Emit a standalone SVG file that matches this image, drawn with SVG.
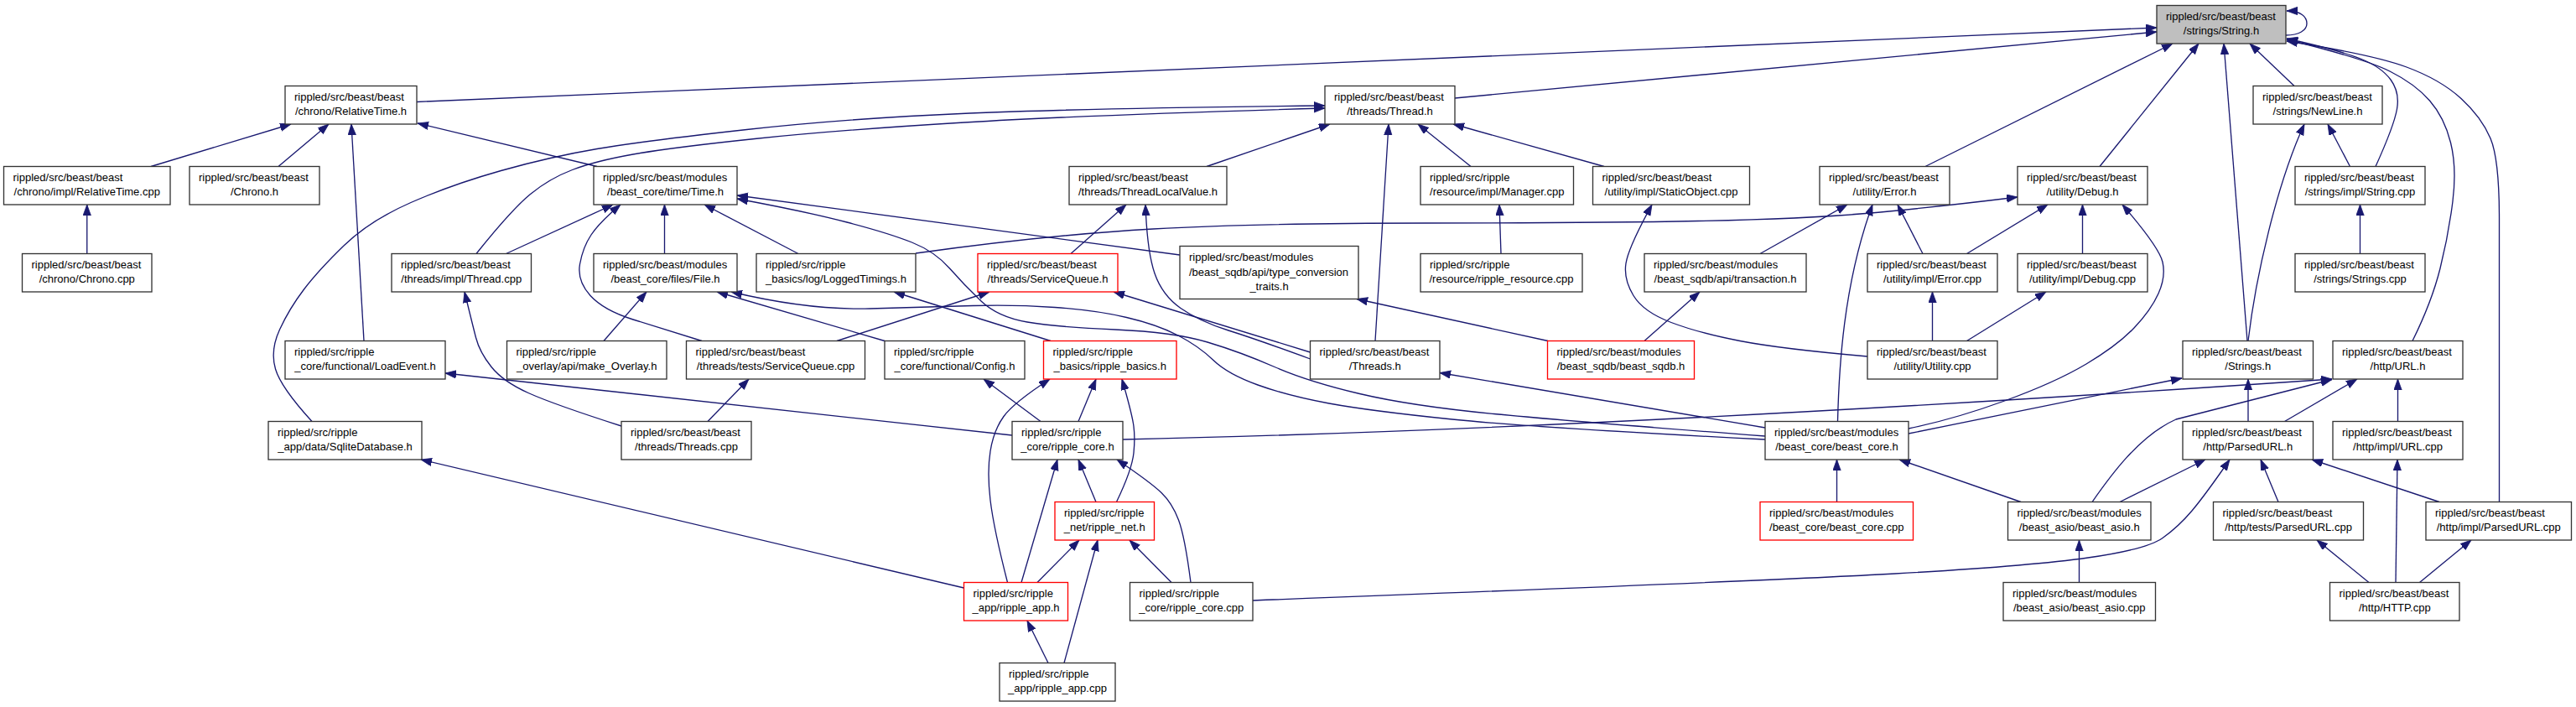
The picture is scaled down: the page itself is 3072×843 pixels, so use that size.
<svg xmlns="http://www.w3.org/2000/svg" width="3072" height="843" viewBox="0 0 3072 843">
<style>
.node rect{fill:#ffffff;stroke:#333333;stroke-width:1.33}
.node.root rect{fill:#bfbfbf}
.node.trunc rect{stroke:#ff0000}
text{font-family:"Liberation Sans",Arial,Helvetica,sans-serif;font-size:13px;fill:#000000}
.l{text-anchor:start}
.c{text-anchor:middle}
#edges path{fill:none;stroke:#191970;stroke-width:1.33;marker-end:url(#ah)}
</style>
<defs>
<marker id="ah" markerUnits="userSpaceOnUse" markerWidth="14" markerHeight="10" viewBox="0 0 14 10" refX="13" refY="4.7" orient="auto"><path d="M0,0 L13,4.7 L0,9.4 Z" fill="#191970" stroke="#191970" stroke-width="0.8"/></marker>
</defs>
<rect x="0" y="0" width="3072" height="843" fill="#ffffff"/>
<g id="edges">
<path d="M497,121.5 L2572,33"/>
<path d="M1735,117 L2572,38"/>
<path d="M180,198.5 L347,148"/>
<path d="M332,198.5 L392,148"/>
<path d="M103.75,302.5 L103.75,244"/>
<path d="M434,406.5 L419,148"/>
<path d="M712,198.5 L498,147"/>
<path d="M372,502.5 Q335,462 328.5,440 T333.5,393 T362.5,345 T410.5,292.5 T490,241.5 T597.5,203.5 T712,177.5 T890.5,154.5 T1156.5,135 T1580,126"/>
<path d="M568,302.5 Q610,250 632.5,231.5 T682.5,202.5 T755,184 T900,165.5 T1150,146 T1580,129"/>
<path d="M1439,198.5 L1586,148"/>
<path d="M1754,198.5 L1691,148"/>
<path d="M1913,198.5 L1733,148"/>
<path d="M1640,406.5 L1656,148"/>
<path d="M1790,302.5 L1788,244"/>
<path d="M2227,425 Q2124,416 2075,406.5 T1993,384.5 T1948,352.5 T1939,314 T1970,244"/>
<path d="M1846,406.5 L1618,356.5"/>
<path d="M1961,406.5 L2027,348"/>
<path d="M1407,304 L879,233"/>
<path d="M2105,520 Q1880,503 1781.5,493.5 T1621.5,469.5 T1520,437.5 T1440,408 T1330,393 T1225,384 T1170,359 T1132.5,320 T1087.5,289 T1010,265 T879,237"/>
<path d="M2105,524 Q1830,510 1732,500 T1585,481 T1500,459 T1447,429.5 T1405,400 T1343.5,378.5 T1258,366.5 T1160,364.5 T1037.5,368 T872,348"/>
<path d="M792.5,302.5 L792.5,244"/>
<path d="M603.5,302.5 L731,244"/>
<path d="M837,406.5 Q790,392 755,381 T704,352.5 T691.5,315 T705,280 T740,244"/>
<path d="M952,302.5 L840,244"/>
<path d="M720,406.5 L771,348"/>
<path d="M1055,406.5 L855,348"/>
<path d="M1253,406.5 L1066,348"/>
<path d="M998,406.5 L1180,348"/>
<path d="M1277,302.5 L1343,244"/>
<path d="M1562.5,428 Q1500,405 1465,394 T1408,367.5 T1377,326 T1366,244"/>
<path d="M1562.5,420 L1328,348"/>
<path d="M2105,510 L1717,444.5"/>
<path d="M1207,519 L531,445"/>
<path d="M1149.5,701 L502,548"/>
<path d="M741,508 Q660,482 630,468.5 T586,437.5 T567.5,402.5 T554,348"/>
<path d="M844,502.5 L893,452"/>
<path d="M1241,502.5 L1173,452"/>
<path d="M1286,502.5 L1307,452"/>
<path d="M1201.5,694.5 Q1185,630 1181,596.5 T1181,538 T1197,496.5 T1252,452"/>
<path d="M1331.5,598.5 Q1350,560 1352,540 T1351.5,505 T1338,452"/>
<path d="M1218,694.5 L1261,548"/>
<path d="M1307,598.5 L1286,548"/>
<path d="M1420,694.5 Q1413,640 1405.5,620 T1385,587.5 T1332,548"/>
<path d="M1237,694.5 L1287,644"/>
<path d="M1269,790.5 L1309,644"/>
<path d="M1397,694.5 L1347,644"/>
<path d="M1250,790.5 L1225,740"/>
<path d="M1339,524 Q1900,512 2781,452"/>
<path d="M1494,716 Q2100,693 2260,684 T2490,665 T2579,641.5 T2614,609 T2659,548"/>
<path d="M2276,517 L2602,451"/>
<path d="M2276,511 Q2330,500 2390.5,478 T2488,434 T2545,391 T2574,350 T2579,312.5 T2531,244"/>
<path d="M2410,598.5 L2265,548"/>
<path d="M2190.5,598.5 L2190.5,548"/>
<path d="M2191.5,502.5 C2193,440 2198,340 2233,244"/>
<path d="M2099,302.5 L2203,244"/>
<path d="M2293,302.5 L2263,244"/>
<path d="M2296,198.5 L2591,52"/>
<path d="M2504,198.5 L2622,52"/>
<path d="M2680,406.5 L2652,52"/>
<path d="M2736,102.5 L2683,52"/>
<path d="M2833,198.5 Q2855,150 2858.5,130 T2851,95 T2815,70 T2727,46"/>
<path d="M2877,406.5 Q2900,360 2910,320 T2925,240 T2922.5,170 T2897.5,120 T2850,85 T2727,47"/>
<path d="M2980.5,598.5 L2980.5,260 Q2980.5,190 2970,165 T2935,117.5 T2870,80 T2727,49"/>
<path d="M2681,406.5 C2690,330 2715,220 2748,148"/>
<path d="M2802.5,198.5 L2776,148"/>
<path d="M2814.5,302.5 L2814.5,244"/>
<path d="M2345.5,302.5 L2442,244"/>
<path d="M2483.5,302.5 L2483.5,244"/>
<path d="M1092,302 Q1250,280 1375,273 T1700,266 T2025,263.5 T2225,254.5 T2406,235"/>
<path d="M2345.5,406.5 L2440,348"/>
<path d="M2304.5,406.5 L2304.5,348"/>
<path d="M2681,502.5 L2681,452"/>
<path d="M2724.5,502.5 L2811,452"/>
<path d="M2859.5,502.5 L2859.5,452"/>
<path d="M2495,598.5 C2515,570 2550,520 2595,500 L2781,452.5"/>
<path d="M2528,598.5 L2630,548"/>
<path d="M2717,598.5 L2696,548"/>
<path d="M2909,598.5 L2757,548"/>
<path d="M2479.5,694.5 L2479.5,644"/>
<path d="M2857,694.5 L2859,548"/>
<path d="M2825,694.5 L2763,644"/>
<path d="M2885.5,694.5 L2947,644"/>
<path d="M2726,42 C2742,42 2751,36 2751,28 C2751,20 2744,13 2727,13"/>
</g>
<g id="n_string" class="node root"><rect x="2572" y="6.5" width="154" height="45.5"/><text class="l" x="2583" y="24">rippled/src/beast/beast</text><text class="c" x="2649" y="41">/strings/String.h</text></g>
<g id="n_reltime" class="node"><rect x="340" y="102.5" width="157" height="45.5"/><text class="l" x="351" y="120">rippled/src/beast/beast</text><text class="c" x="418.5" y="137">/chrono/RelativeTime.h</text></g>
<g id="n_thread" class="node"><rect x="1580" y="102.5" width="155" height="45.5"/><text class="l" x="1591" y="120">rippled/src/beast/beast</text><text class="c" x="1657.5" y="137">/threads/Thread.h</text></g>
<g id="n_newline" class="node"><rect x="2687" y="102.5" width="154" height="45.5"/><text class="l" x="2698" y="120">rippled/src/beast/beast</text><text class="c" x="2764" y="137">/strings/NewLine.h</text></g>
<g id="n_reltimecpp" class="node"><rect x="4.5" y="198.5" width="198.5" height="45.5"/><text class="l" x="15.5" y="216">rippled/src/beast/beast</text><text class="c" x="103.75" y="233">/chrono/impl/RelativeTime.cpp</text></g>
<g id="n_chronoh" class="node"><rect x="226" y="198.5" width="155" height="45.5"/><text class="l" x="237" y="216">rippled/src/beast/beast</text><text class="c" x="303.5" y="233">/Chrono.h</text></g>
<g id="n_time" class="node"><rect x="708" y="198.5" width="171" height="45.5"/><text class="l" x="719" y="216">rippled/src/beast/modules</text><text class="c" x="793.5" y="233">/beast_core/time/Time.h</text></g>
<g id="n_tlv" class="node"><rect x="1275" y="198.5" width="188" height="45.5"/><text class="l" x="1286" y="216">rippled/src/beast/beast</text><text class="c" x="1369" y="233">/threads/ThreadLocalValue.h</text></g>
<g id="n_manager" class="node"><rect x="1694" y="198.5" width="182.5" height="45.5"/><text class="l" x="1705" y="216">rippled/src/ripple</text><text class="c" x="1785.25" y="233">/resource/impl/Manager.cpp</text></g>
<g id="n_staticobj" class="node"><rect x="1899.5" y="198.5" width="187" height="45.5"/><text class="l" x="1910.5" y="216">rippled/src/beast/beast</text><text class="c" x="1993" y="233">/utility/impl/StaticObject.cpp</text></g>
<g id="n_errorh" class="node"><rect x="2170" y="198.5" width="155" height="45.5"/><text class="l" x="2181" y="216">rippled/src/beast/beast</text><text class="c" x="2247.5" y="233">/utility/Error.h</text></g>
<g id="n_debugh" class="node"><rect x="2406" y="198.5" width="155" height="45.5"/><text class="l" x="2417" y="216">rippled/src/beast/beast</text><text class="c" x="2483.5" y="233">/utility/Debug.h</text></g>
<g id="n_stringcpp" class="node"><rect x="2737" y="198.5" width="155" height="45.5"/><text class="l" x="2748" y="216">rippled/src/beast/beast</text><text class="c" x="2814.5" y="233">/strings/impl/String.cpp</text></g>
<g id="n_chronocpp" class="node"><rect x="26.5" y="302.5" width="154.5" height="45.5"/><text class="l" x="37.5" y="320">rippled/src/beast/beast</text><text class="c" x="103.75" y="337">/chrono/Chrono.cpp</text></g>
<g id="n_threadcpp" class="node"><rect x="467" y="302.5" width="166.5" height="45.5"/><text class="l" x="478" y="320">rippled/src/beast/beast</text><text class="c" x="550.25" y="337">/threads/impl/Thread.cpp</text></g>
<g id="n_fileh" class="node"><rect x="708" y="302.5" width="171" height="45.5"/><text class="l" x="719" y="320">rippled/src/beast/modules</text><text class="c" x="793.5" y="337">/beast_core/files/File.h</text></g>
<g id="n_logged" class="node"><rect x="902" y="302.5" width="190" height="45.5"/><text class="l" x="913" y="320">rippled/src/ripple</text><text class="c" x="997" y="337">_basics/log/LoggedTimings.h</text></g>
<g id="n_sqh" class="node trunc"><rect x="1166" y="302.5" width="167" height="45.5"/><text class="l" x="1177" y="320">rippled/src/beast/beast</text><text class="c" x="1249.5" y="337">/threads/ServiceQueue.h</text></g>
<g id="n_typeconv" class="node"><rect x="1407" y="293.5" width="213" height="63"/><text class="l" x="1418" y="311">rippled/src/beast/modules</text><text class="l" x="1418" y="328.5">/beast_sqdb/api/type_conversion</text><text class="c" x="1513.5" y="346">_traits.h</text></g>
<g id="n_resource" class="node"><rect x="1694" y="302.5" width="193" height="45.5"/><text class="l" x="1705" y="320">rippled/src/ripple</text><text class="c" x="1790.5" y="337">/resource/ripple_resource.cpp</text></g>
<g id="n_transaction" class="node"><rect x="1961" y="302.5" width="193" height="45.5"/><text class="l" x="1972" y="320">rippled/src/beast/modules</text><text class="c" x="2057.5" y="337">/beast_sqdb/api/transaction.h</text></g>
<g id="n_errorcpp" class="node"><rect x="2227" y="302.5" width="155" height="45.5"/><text class="l" x="2238" y="320">rippled/src/beast/beast</text><text class="c" x="2304.5" y="337">/utility/impl/Error.cpp</text></g>
<g id="n_debugcpp" class="node"><rect x="2406" y="302.5" width="155" height="45.5"/><text class="l" x="2417" y="320">rippled/src/beast/beast</text><text class="c" x="2483.5" y="337">/utility/impl/Debug.cpp</text></g>
<g id="n_stringscpp" class="node"><rect x="2737" y="302.5" width="155" height="45.5"/><text class="l" x="2748" y="320">rippled/src/beast/beast</text><text class="c" x="2814.5" y="337">/strings/Strings.cpp</text></g>
<g id="n_loadevent" class="node"><rect x="340" y="406.5" width="191" height="45.5"/><text class="l" x="351" y="424">rippled/src/ripple</text><text class="c" x="435.5" y="441">_core/functional/LoadEvent.h</text></g>
<g id="n_overlay" class="node"><rect x="604.5" y="406.5" width="190.5" height="45.5"/><text class="l" x="615.5" y="424">rippled/src/ripple</text><text class="c" x="699.75" y="441">_overlay/api/make_Overlay.h</text></g>
<g id="n_sqcpp" class="node"><rect x="818.5" y="406.5" width="213" height="45.5"/><text class="l" x="829.5" y="424">rippled/src/beast/beast</text><text class="c" x="925" y="441">/threads/tests/ServiceQueue.cpp</text></g>
<g id="n_config" class="node"><rect x="1055" y="406.5" width="167" height="45.5"/><text class="l" x="1066" y="424">rippled/src/ripple</text><text class="c" x="1138.5" y="441">_core/functional/Config.h</text></g>
<g id="n_basics" class="node trunc"><rect x="1244.5" y="406.5" width="158.5" height="45.5"/><text class="l" x="1255.5" y="424">rippled/src/ripple</text><text class="c" x="1323.75" y="441">_basics/ripple_basics.h</text></g>
<g id="n_threadsh" class="node"><rect x="1562.5" y="406.5" width="154.5" height="45.5"/><text class="l" x="1573.5" y="424">rippled/src/beast/beast</text><text class="c" x="1639.75" y="441">/Threads.h</text></g>
<g id="n_sqdb" class="node trunc"><rect x="1845.5" y="406.5" width="175" height="45.5"/><text class="l" x="1856.5" y="424">rippled/src/beast/modules</text><text class="c" x="1933" y="441">/beast_sqdb/beast_sqdb.h</text></g>
<g id="n_utility" class="node"><rect x="2227" y="406.5" width="155" height="45.5"/><text class="l" x="2238" y="424">rippled/src/beast/beast</text><text class="c" x="2304.5" y="441">/utility/Utility.cpp</text></g>
<g id="n_stringsh" class="node"><rect x="2603" y="406.5" width="155.5" height="45.5"/><text class="l" x="2614" y="424">rippled/src/beast/beast</text><text class="c" x="2680.75" y="441">/Strings.h</text></g>
<g id="n_urlh" class="node"><rect x="2782" y="406.5" width="155" height="45.5"/><text class="l" x="2793" y="424">rippled/src/beast/beast</text><text class="c" x="2859.5" y="441">/http/URL.h</text></g>
<g id="n_sqlite" class="node"><rect x="320" y="502.5" width="183" height="45.5"/><text class="l" x="331" y="520">rippled/src/ripple</text><text class="c" x="411.5" y="537">_app/data/SqliteDatabase.h</text></g>
<g id="n_threadscpp" class="node"><rect x="741" y="502.5" width="155" height="45.5"/><text class="l" x="752" y="520">rippled/src/beast/beast</text><text class="c" x="818.5" y="537">/threads/Threads.cpp</text></g>
<g id="n_coreh" class="node"><rect x="1207" y="502.5" width="132" height="45.5"/><text class="l" x="1218" y="520">rippled/src/ripple</text><text class="c" x="1273" y="537">_core/ripple_core.h</text></g>
<g id="n_beastcoreh" class="node"><rect x="2105" y="502.5" width="171" height="45.5"/><text class="l" x="2116" y="520">rippled/src/beast/modules</text><text class="c" x="2190.5" y="537">/beast_core/beast_core.h</text></g>
<g id="n_parsedurlh" class="node"><rect x="2603" y="502.5" width="155.5" height="45.5"/><text class="l" x="2614" y="520">rippled/src/beast/beast</text><text class="c" x="2680.75" y="537">/http/ParsedURL.h</text></g>
<g id="n_urlcpp" class="node"><rect x="2782" y="502.5" width="155" height="45.5"/><text class="l" x="2793" y="520">rippled/src/beast/beast</text><text class="c" x="2859.5" y="537">/http/impl/URL.cpp</text></g>
<g id="n_net" class="node trunc"><rect x="1258" y="598.5" width="118.5" height="45.5"/><text class="l" x="1269" y="616">rippled/src/ripple</text><text class="c" x="1317.25" y="633">_net/ripple_net.h</text></g>
<g id="n_beastcorecpp" class="node trunc"><rect x="2099" y="598.5" width="182.5" height="45.5"/><text class="l" x="2110" y="616">rippled/src/beast/modules</text><text class="c" x="2190.25" y="633">/beast_core/beast_core.cpp</text></g>
<g id="n_asioh" class="node"><rect x="2394.5" y="598.5" width="170.5" height="45.5"/><text class="l" x="2405.5" y="616">rippled/src/beast/modules</text><text class="c" x="2479.75" y="633">/beast_asio/beast_asio.h</text></g>
<g id="n_testsparsed" class="node"><rect x="2639.5" y="598.5" width="179" height="45.5"/><text class="l" x="2650.5" y="616">rippled/src/beast/beast</text><text class="c" x="2729" y="633">/http/tests/ParsedURL.cpp</text></g>
<g id="n_implparsed" class="node"><rect x="2893" y="598.5" width="173.5" height="45.5"/><text class="l" x="2904" y="616">rippled/src/beast/beast</text><text class="c" x="2979.75" y="633">/http/impl/ParsedURL.cpp</text></g>
<g id="n_apph" class="node trunc"><rect x="1149.5" y="694.5" width="124" height="45.5"/><text class="l" x="1160.5" y="712">rippled/src/ripple</text><text class="c" x="1211.5" y="729">_app/ripple_app.h</text></g>
<g id="n_corecpp" class="node"><rect x="1347.5" y="694.5" width="146.5" height="45.5"/><text class="l" x="1358.5" y="712">rippled/src/ripple</text><text class="c" x="1420.75" y="729">_core/ripple_core.cpp</text></g>
<g id="n_asiocpp" class="node"><rect x="2389" y="694.5" width="181.5" height="45.5"/><text class="l" x="2400" y="712">rippled/src/beast/modules</text><text class="c" x="2479.75" y="729">/beast_asio/beast_asio.cpp</text></g>
<g id="n_http" class="node"><rect x="2778.5" y="694.5" width="154.5" height="45.5"/><text class="l" x="2789.5" y="712">rippled/src/beast/beast</text><text class="c" x="2855.75" y="729">/http/HTTP.cpp</text></g>
<g id="n_appcpp" class="node"><rect x="1192" y="790.5" width="138" height="45.5"/><text class="l" x="1203" y="808">rippled/src/ripple</text><text class="c" x="1261" y="825">_app/ripple_app.cpp</text></g>
</svg>
